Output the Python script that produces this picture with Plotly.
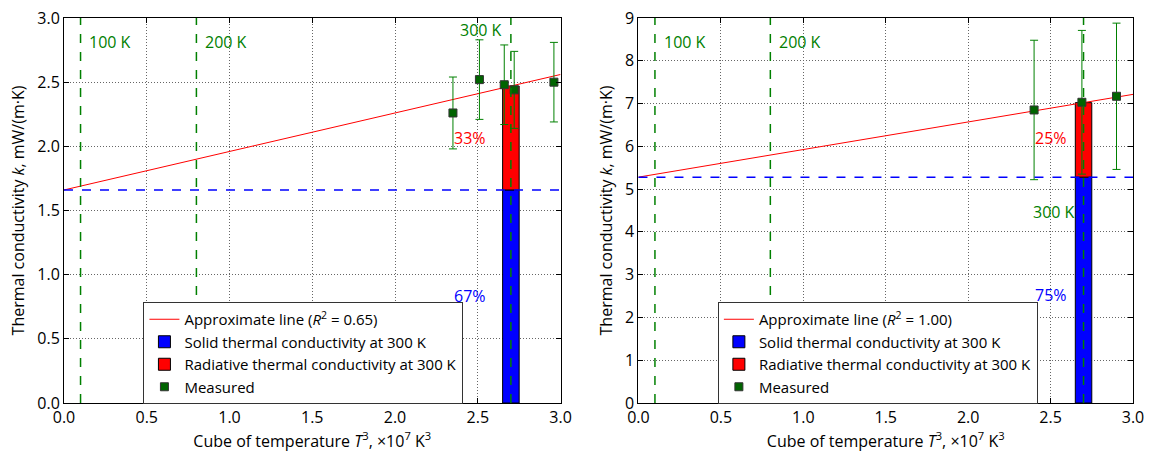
import plotly.graph_objects as go
from plotly.subplots import make_subplots

# ---------------- data ----------------
temps_K = [100, 200, 300]                      # reference temperatures
temp_labels = ["100 K", "200 K", "300 K"]

# Left panel (R^2 = 0.65)
left_x = [2.35, 2.51, 2.66, 2.72, 2.96]
left_y = [2.26, 2.52, 2.48, 2.44, 2.50]
left_err = [0.28, 0.31, 0.31, 0.30, 0.31]
left_intercept = 1.66
left_slope = 0.30
left_r2 = "0.65"

# Right panel (R^2 = 1.00)
right_x = [2.40, 2.69, 2.90]
right_y = [6.85, 7.03, 7.17]
right_err = [1.63, 1.68, 1.71]
right_intercept = 5.28
right_slope = 0.645
right_r2 = "1.00"

x_range = [0.0, 3.0]
left_yrange = [0.0, 3.0]
right_yrange = [0.0, 9.0]

# ---------------- styling ----------------
FONT = "Open Sans"
GREEN = "#008000"
DKGREEN = "#006400"

fig = make_subplots(rows=1, cols=2, horizontal_spacing=0.07)

t3 = [t ** 3 / 1e7 for t in temps_K]
T300 = t3[2]


def add_panel(col, xs, ys, errs, b0, b1, r2, legname, lab_y, t300_y, pct_x, rad_y, sol_y):
    total = b0 + b1 * T300
    rad = total - b0
    # fit line
    fig.add_trace(go.Scatter(x=x_range, y=[b0 + b1 * x for x in x_range], mode="lines",
                             line=dict(color="red", width=1),
                             name=f"Approximate line (<i>R</i><sup>2</sup> = {r2})",
                             legend=legname), row=1, col=col)
    # stacked bars at 300 K
    fig.add_trace(go.Bar(x=[T300], y=[b0], base=[0], width=0.1,
                         marker=dict(color="blue", line=dict(color="black", width=1)),
                         name="Solid thermal conductivity at 300 K", legend=legname),
                  row=1, col=col)
    fig.add_trace(go.Bar(x=[T300], y=[rad], base=[b0], width=0.1,
                         marker=dict(color="red", line=dict(color="black", width=1)),
                         name="Radiative thermal conductivity at 300 K", legend=legname),
                  row=1, col=col)
    # measured
    fig.add_trace(go.Scatter(x=xs, y=ys, mode="markers",
                             marker=dict(symbol="square", size=8, color=DKGREEN,
                                         line=dict(color="#333333", width=1)),
                             error_y=dict(type="data", array=errs, visible=True,
                                          color=GREEN, thickness=1, width=4),
                             name="Measured", legend=legname), row=1, col=col)
    # horizontal intercept line
    fig.add_hline(y=b0, line=dict(color="blue", width=1.5, dash="dash"), row=1, col=col)
    # vertical temperature lines
    for xv in t3:
        fig.add_vline(x=xv, line=dict(color=GREEN, width=1.5, dash="dash"), row=1, col=col)
    xref = "x" if col == 1 else "x2"
    yref = "y" if col == 1 else "y2"
    for xv, lab in zip(t3[:2], temp_labels[:2]):
        fig.add_annotation(x=xv + 0.04, y=lab_y, text=lab, xref=xref, yref=yref,
                           showarrow=False, xanchor="left",
                           font=dict(family=FONT, size=16, color=GREEN))
    fig.add_annotation(x=T300 - 0.18, y=t300_y, text=temp_labels[2], xref=xref, yref=yref,
                       showarrow=False, xanchor="center",
                       font=dict(family=FONT, size=16, color=GREEN))
    fig.add_annotation(x=pct_x, y=rad_y, text=f"{round(100 * rad / total)}%", xref=xref,
                       yref=yref, showarrow=False, xanchor="center",
                       font=dict(family=FONT, size=16, color="red"))
    fig.add_annotation(x=pct_x, y=sol_y, text=f"{round(100 * b0 / total)}%", xref=xref,
                       yref=yref, showarrow=False, xanchor="center",
                       font=dict(family=FONT, size=16, color="blue"))


add_panel(1, left_x, left_y, left_err, left_intercept, left_slope, left_r2,
          "legend", 2.81, 2.91, 2.45, 2.065, 0.834)
add_panel(2, right_x, right_y, right_err, right_intercept, right_slope, right_r2,
          "legend2", 8.43, 4.46, 2.50, 6.19, 2.52)

W, H = 1149, 457
ML, MR, MT, MB = 63.5, 1149 - 1133.5, 18, 457 - 403
IW = W - ML - MR
xd1 = [0.0, (560.5 - ML) / IW]
xd2 = [(638.5 - ML) / IW, 1.0]

axis_common = dict(showline=True, linecolor="black", linewidth=1, mirror="ticks",
                   ticks="inside", ticklen=5, tickcolor="black", showgrid=True,
                   gridcolor="#666666", griddash="1px,2px", gridwidth=1, zeroline=False,
                   automargin=False,
                   tickfont=dict(family=FONT, size=16, color="black"))

xtitle = "Cube of temperature <i>T</i><sup>3</sup>, ×10<sup>7</sup> K<sup>3</sup>"
ytitle = "Thermal conductivity <i>k</i>, mW/(m·K)"

fig.update_xaxes(**axis_common, range=x_range, dtick=0.5, tickformat=".1f",
                 title=dict(text=xtitle, font=dict(family=FONT, size=16, color="black"),
                            standoff=4))
fig.update_xaxes(domain=xd1, row=1, col=1)
fig.update_xaxes(domain=xd2, row=1, col=2)
fig.update_yaxes(**axis_common, domain=[0, 1],
                 title=dict(text=ytitle, font=dict(family=FONT, size=16, color="black"),
                            standoff=8))
fig.update_yaxes(range=left_yrange, dtick=0.5, tickformat=".1f", row=1, col=1)
fig.update_yaxes(range=right_yrange, dtick=1, tickformat="d", row=1, col=2)

legend_common = dict(bgcolor="white", bordercolor="#333333", borderwidth=1,
                     font=dict(family=FONT, size=15, color="black"),
                     xanchor="left", yanchor="top", traceorder="normal",
                     tracegroupgap=0, itemwidth=30)

fig.update_layout(
    width=W, height=H,
    margin=dict(l=ML, r=MR, t=MT, b=MB, autoexpand=False),
    paper_bgcolor="white", plot_bgcolor="white",
    barmode="overlay",
    showlegend=True,
    legend=dict(**legend_common, x=(143 - ML) / IW, y=(403 - 302) / (403 - 18)),
    legend2=dict(**legend_common, x=(718 - ML) / IW, y=(403 - 302) / (403 - 18)),
    font=dict(family=FONT, size=16, color="black"),
)

fig.write_html("out.html")
